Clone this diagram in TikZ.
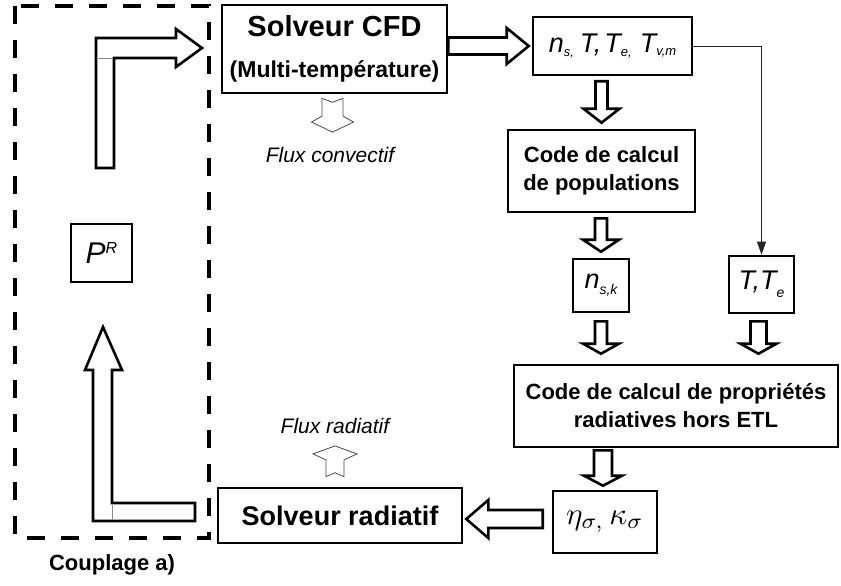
\documentclass[tikz,border=0pt]{standalone}
\usepackage{fontspec}
\setmainfont{Liberation Sans}
\usetikzlibrary{calc,arrows.meta}
\newcommand\sbx[2]{\raisebox{-#1}{\fontsize{13}{13}\selectfont\itshape #2}}
\tikzset{
  box/.style={draw, line width=2.6pt, inner sep=0pt, align=center},
  blk/.style={draw, line width=2.6pt, fill=white, line join=miter},
  thinblk/.style={draw=black!70, line width=0.8pt, fill=white, line join=miter},
  frame/.style={line width=4pt, dash pattern=on 18pt off 16pt},
  link/.style={draw=black!85, line width=0.9pt, -{Triangle[length=13pt,width=9pt]}},
  lbl/.style={inner sep=0pt, font=\fontsize{21}{24}\selectfont\itshape},
}
% vertical block arrow: #1 start, #2 tip, #3 shaft half, #4 head half, #5 head length (downwards)
\newcommand\blkdn[5]{\path[blk] let \p1=#1, \p2=#2 in
  (\x1-#3,\y1) -- (\x1-#3,\y2+#5) -- (\x1-#4,\y2+#5) -- (\x1,\y2) --
  (\x1+#4,\y2+#5) -- (\x1+#3,\y2+#5) -- (\x1+#3,\y1) -- cycle;}
\begin{document}
\begin{tikzpicture}[x=1pt,y=-1pt]
\useasboundingbox (0,0) rectangle (841,586);

% dashed coupling frame
\draw[frame] (15,6) rectangle (209,538);

% nodes
\node[box, minimum width=225pt, minimum height=88pt,
      font=\bfseries\fontsize{23}{41}\selectfont] (cfd) at (334.5,49)
  {{\fontsize{29}{41}\selectfont Solveur CFD}\\(Multi-température)};
\node[box, minimum width=159pt, minimum height=58pt] (ns) at (612.5,46)
  {\fontsize{27}{30}\selectfont\itshape n\sbx{4pt}{s,}\hspace{6pt}T,\hspace{3pt}T\sbx{4pt}{e,}\hspace{8pt}T\sbx{3.5pt}{v,m}};
\node[box, minimum width=187pt, minimum height=82pt,
      font=\bfseries\fontsize{22}{27.5}\selectfont] (pop) at (601.5,171)
  {Code de calcul\\de populations};
\node[box, minimum width=56pt, minimum height=53pt] (nsk) at (601,285.5)
  {\fontsize{27}{30}\selectfont\itshape n{\fontsize{14}{14}\selectfont\raisebox{-6pt}{s,k}}};
\node[box, minimum width=65pt, minimum height=57pt] (tte) at (761.5,284.5)
  {\fontsize{27}{30}\selectfont\itshape T,T\raisebox{-8pt}{\fontsize{14}{14}\selectfont e}};
\node[box, minimum width=324pt, minimum height=82pt,
      font=\bfseries\fontsize{22}{28}\selectfont] (prop) at (676,406)
  {Code de calcul de propriétés\\radiatives hors ETL};
\node[box, minimum width=104pt, minimum height=62pt] (eta) at (605,522)
  {\scalebox{3.1}{$\eta_{\sigma,}\,\kappa_{\sigma}$}};
\node[box, minimum width=244pt, minimum height=55pt] (rad) at (340,515.5)
  {\bfseries\fontsize{27}{30}\selectfont Solveur radiatif};
\node[box, line width=2.2pt, minimum width=61pt, minimum height=58pt] (pr) at (101.5,253)
  {\fontsize{30}{30}\selectfont\itshape P\raisebox{10pt}{\fontsize{16}{16}\selectfont R}};

% labels
\node[lbl] (fc) at (330,155) {Flux convectif};
\node[lbl] (fr) at (335,426) {Flux radiatif};
\node[inner sep=0pt, font=\bfseries\fontsize{22}{24}\selectfont] (cpl) at (112,565) {Couplage a)};

% bent block arrows of the coupling loop
\path[blk] (96,168) -- (96,38) -- (176,38) -- (176,29) -- (202,48) -- (176,67)
  -- (176,58) -- (114,58) -- (114,168) -- cycle;
\draw[black!45, line width=0.6pt] (97.5,58) -- (112.5,58);
\path[blk] (103,327) -- (122,370) -- (112,370) -- (112,503) -- (195,503)
  -- (195,521) -- (93,521) -- (93,370) -- (85,370) -- cycle;
\draw[black!45, line width=0.6pt] (112,504.5) -- (112,519.5);

% block arrow CFD -> ns
\path[blk] let \p1=(cfd.east |- ns.west), \p2=($(ns.west)+(-3,0)$) in
  (\x1,\y1+8.5pt) -- (\x2-22pt,\y1+8.5pt) -- (\x2-22pt,\y1+18pt) -- (\x2,\y1) --
  (\x2-22pt,\y1-18pt) -- (\x2-22pt,\y1-8.5pt) -- (\x1,\y1-8.5pt) -- cycle;

% vertical block arrows
\blkdn{($(ns.south -| pop.north)+(0,5)$)}{($(pop.north)+(0,-6)$)}{6pt}{18pt}{14pt}
\blkdn{($(pop.south -| nsk.north)+(0,5)$)}{($(nsk.north)+(0,-6)$)}{6pt}{18pt}{12pt}
\blkdn{($(nsk.south)+(0,8)$)}{($(nsk.south |- prop.north)+(0,-10)$)}{6pt}{18pt}{10pt}
\blkdn{($(tte.south)+(-3,7)$)}{($(tte.south |- prop.north)+(-3,-10)$)}{8pt}{18pt}{10pt}
\blkdn{($(prop.south -| eta.north)+(-2,2)$)}{($(eta.north)+(-2,-4)$)}{9pt}{19pt}{10pt}

% block arrow eta -> radiatif
\path[blk] let \p1=($(eta.west)+(-9,-3)$), \p2=($(rad.east)+(3,-3)$) in
  (\x1,\y1+9pt) -- (\x2+22pt,\y1+9pt) -- (\x2+22pt,\y1+19pt) -- (\x2,\y1) --
  (\x2+22pt,\y1-19pt) -- (\x2+22pt,\y1-9pt) -- (\x1,\y1-9pt) -- cycle;

% thin link ns -> T,Te
\coordinate (bend) at (ns.east -| tte.north);
\draw[link] (ns.east) -- (bend) -- (tte.north);

% thin outline arrows (flux)
\path[thinblk] let \p1=($(cfd.south)+(-2,4)$), \p2=($(fc.north)+(2,-15)$) in
  (\x1-10.5pt,\y1) -- (\x1,\y1-4pt) -- (\x1+10.5pt,\y1) -- (\x1+10.5pt,\y2+16pt) --
  (\x1+21pt,\y2+10pt) -- (\x1,\y2) -- (\x1-21pt,\y2+10pt) -- (\x1-10.5pt,\y2+16pt) -- cycle;
\path[thinblk] let \p1=($(rad.north)+(-5,-10)$), \p2=($(fr.south)+(0,12)$) in
  (\x1-9pt,\y1) -- (\x1,\y1+4pt) -- (\x1+9pt,\y1) -- (\x1+9pt,\y2-14pt) --
  (\x1+22pt,\y2-8pt) -- (\x1,\y2) -- (\x1-22pt,\y2-8pt) -- (\x1-9pt,\y2-14pt) -- cycle;
\end{tikzpicture}
\end{document}
